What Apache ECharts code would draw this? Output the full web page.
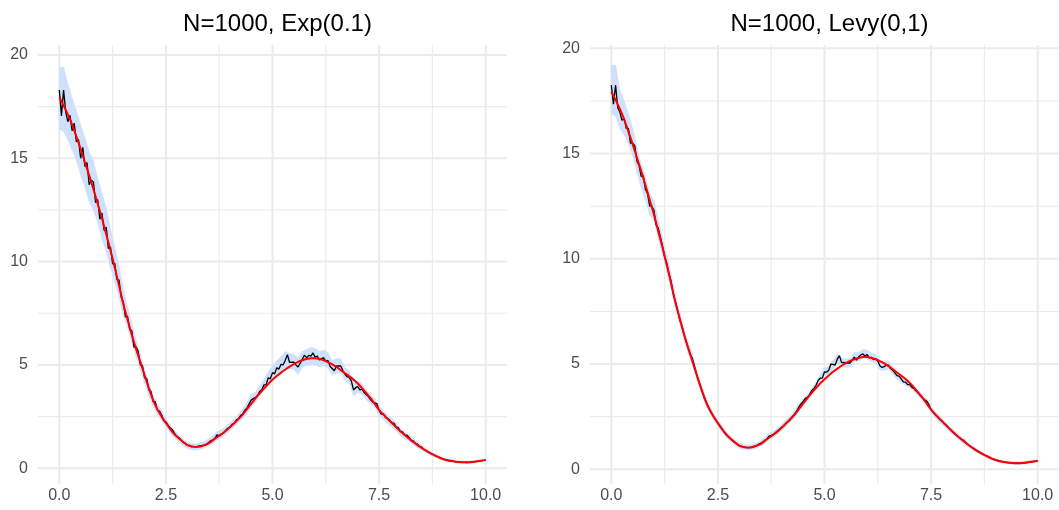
<!DOCTYPE html>
<html>
<head>
<meta charset="utf-8">
<script src="https://cdn.jsdelivr.net/npm/echarts@6/dist/echarts.min.js"></script>
<style>
html,body{margin:0;padding:0;background:#fff;}
#chart{width:1059px;height:510px;}
</style>
</head>
<body>
<div id="chart"></div>
<script>
// ---------- data ----------
const panelTitles = ['N=1000, Exp(0.1)', 'N=1000, Levy(0,1)'];
const xTickValues = [0, 2.5, 5, 7.5, 10];
const yTickValues = [0, 5, 10, 15, 20];
const xMinorGrid = [1.25, 3.75, 6.25, 8.75];
const yMinorGrid = [2.5, 7.5, 12.5, 17.5];
const coarseStep = 0.1;   // grid of the true curve and the bands
const fineStep = 0.05;    // grid of the estimates

// true function (red), same in both panels
const truth = [17.95,17.55,17.12,16.63,16.05,15.45,14.80,14.17,13.50,12.80,
12.10,11.32,10.55,9.72,8.85,7.95,7.20,6.45,5.78,5.15,
4.50,3.88,3.30,2.85,2.50,2.19,1.90,1.64,1.45,1.28,
1.12,1.06,1.03,1.05,1.12,1.20,1.35,1.50,1.64,1.80,
1.98,2.18,2.38,2.60,2.86,3.12,3.38,3.63,3.86,4.08,
4.28,4.46,4.63,4.78,4.92,5.04,5.15,5.23,5.29,5.33,
5.33,5.29,5.23,5.14,5.03,4.90,4.75,4.60,4.45,4.29,
4.10,3.88,3.64,3.39,3.11,2.83,2.60,2.39,2.19,1.99,
1.79,1.61,1.44,1.27,1.12,0.98,0.85,0.73,0.63,0.53,
0.45,0.39,0.35,0.32,0.30,0.29,0.29,0.31,0.34,0.37,
0.40];

// estimate, left panel (black)
const estExp = [18.30,17.05,18.30,17.24,16.77,17.08,16.33,16.70,15.80,15.90,
15.00,15.53,14.60,14.79,13.72,13.94,13.85,12.85,13.00,12.05,
12.35,11.51,11.67,10.64,10.70,9.89,9.92,9.14,9.10,8.30,
8.05,7.32,7.35,6.72,6.65,5.86,5.88,5.66,5.00,4.97,
4.38,4.34,3.80,3.71,3.22,3.22,2.80,2.77,2.58,2.30,
2.25,2.09,1.96,1.87,1.70,1.56,1.49,1.38,1.25,1.22,
1.12,1.11,1.04,1.06,1.03,1.06,1.09,1.10,1.12,1.14,
1.25,1.33,1.37,1.45,1.62,1.57,1.66,1.70,1.83,1.94,
2.00,2.12,2.16,2.33,2.40,2.55,2.63,2.81,2.91,3.11,
3.30,3.37,3.43,3.52,3.73,3.80,4.04,4.05,4.38,4.33,
4.63,4.57,4.86,4.80,5.03,5.00,5.23,5.50,5.12,5.13,
5.14,5.00,4.90,5.09,5.28,5.48,5.34,5.46,5.43,5.58,
5.38,5.43,5.24,5.31,5.35,5.16,5.22,4.94,4.83,4.72,
4.95,4.95,4.95,4.73,4.55,4.43,4.40,4.22,3.79,3.90,
3.95,3.79,3.83,3.66,3.56,3.47,3.31,3.20,3.16,3.12,
2.80,2.62,2.64,2.45,2.42,2.33,2.20,2.18,1.99,1.97,
1.77,1.76,1.60,1.60,1.50,1.36,1.33,1.21,1.17,1.06,
1.02,0.91,0.86,0.79,0.73,0.69,0.63,0.58,0.54,0.49,
0.45,0.42,0.39,0.36,0.35,0.33,0.31,0.31,0.30,0.29,
0.29,0.28,0.29,0.30,0.31,0.32,0.33,0.35,0.37,0.38,
0.40];

// estimate, right panel (black)
const estLevy = [18.25,17.35,18.25,17.19,16.97,16.58,16.68,16.20,16.20,15.50,
15.50,15.38,14.65,14.44,13.92,13.94,13.30,13.10,12.50,12.50,
12.30,11.61,11.47,11.04,10.60,10.09,9.80,9.32,8.95,8.35,
8.00,7.60,7.15,6.85,6.45,6.08,5.78,5.48,5.27,4.90,
4.52,4.19,3.90,3.59,3.33,3.07,2.87,2.67,2.50,2.36,
2.19,2.04,1.92,1.77,1.64,1.54,1.43,1.34,1.26,1.20,
1.12,1.09,1.06,1.04,1.03,1.03,1.05,1.08,1.12,1.18,
1.23,1.29,1.38,1.44,1.58,1.61,1.66,1.74,1.83,1.92,
2.00,2.08,2.20,2.28,2.40,2.51,2.63,2.78,2.96,3.11,
3.22,3.37,3.42,3.55,3.73,3.83,3.98,4.22,4.33,4.33,
4.63,4.62,4.71,5.00,4.98,4.95,5.23,5.40,5.07,5.08,
5.04,5.05,5.05,5.19,5.33,5.18,5.34,5.43,5.48,5.38,
5.45,5.29,5.32,5.21,5.25,5.14,4.92,4.84,4.88,4.94,
4.95,4.78,4.70,4.58,4.45,4.43,4.30,4.15,4.14,4.02,
4.02,3.89,3.83,3.71,3.62,3.49,3.39,3.30,3.23,3.07,
2.83,2.71,2.58,2.50,2.39,2.31,2.19,2.12,1.99,1.89,
1.79,1.70,1.62,1.52,1.44,1.39,1.30,1.19,1.12,1.05,
0.98,0.91,0.85,0.79,0.73,0.68,0.63,0.58,0.53,0.49,
0.45,0.42,0.39,0.37,0.35,0.33,0.32,0.31,0.30,0.29,
0.29,0.29,0.29,0.30,0.31,0.32,0.34,0.35,0.37,0.38,
0.40];

// confidence bands (light blue)
const bandExpLower = [16.4,16.3,15.9,15.4,14.9,14.2,13.6,12.9,12.5,11.9,
11.1,10.5,9.7,9.0,8.3,7.4,6.8,6.1,5.4,4.75,
4.1,3.5,3.0,2.6,2.3,2.0,1.72,1.48,1.3,1.1,
0.97,0.9,0.88,0.92,0.98,1.08,1.2,1.38,1.48,1.64,
1.82,1.98,2.2,2.4,2.62,2.95,3.2,3.5,3.78,4.05,
4.3,4.5,4.65,4.85,4.8,4.78,4.55,4.9,4.98,5.05,
5.0,4.9,4.98,4.85,4.5,4.6,4.62,4.25,4.1,3.5,
3.68,3.58,3.32,3.1,2.95,2.55,2.36,2.14,2.0,1.8,
1.58,1.42,1.32,1.14,1.0,0.88,0.76,0.63,0.54,0.46,
0.38,0.32,0.28,0.25,0.23,0.23,0.23,0.25,0.27,0.31,
0.34];
const bandExpUpper = [19.4,19.4,18.6,17.9,17.3,16.6,16.0,15.3,14.9,14.0,
13.3,12.6,11.6,10.7,9.8,8.7,7.8,7.0,6.25,5.5,
4.8,4.15,3.55,3.1,2.8,2.42,2.1,1.82,1.62,1.42,
1.28,1.2,1.18,1.24,1.3,1.42,1.55,1.78,1.86,2.02,
2.2,2.38,2.62,2.88,3.18,3.6,3.68,3.98,4.3,4.68,
4.95,5.2,5.4,5.65,5.55,5.5,5.35,5.65,5.75,5.85,
5.8,5.65,5.72,5.6,5.2,5.3,5.3,4.85,4.7,4.1,
4.22,4.08,3.8,3.52,3.38,3.02,2.8,2.56,2.42,2.18,
1.94,1.76,1.64,1.46,1.28,1.12,0.96,0.83,0.72,0.62,
0.52,0.46,0.42,0.38,0.36,0.35,0.35,0.37,0.39,0.43,
0.46];
const bandLevyLower = [16.9,16.8,16.2,15.9,15.5,14.9,14.1,13.4,12.8,12.1,
11.8,11.0,10.2,9.4,8.6,7.7,6.9,6.18,5.52,4.98,
4.3,3.7,3.14,2.7,2.34,2.04,1.77,1.5,1.3,1.14,
1.0,0.94,0.91,0.93,1.0,1.1,1.25,1.44,1.52,1.69,
1.86,2.05,2.24,2.46,2.78,3.1,3.3,3.6,3.84,4.17,
4.45,4.53,4.78,5.02,4.88,4.84,4.85,5.13,5.13,5.27,
5.24,5.11,5.05,4.72,4.69,4.76,4.52,4.28,4.13,3.98,
3.87,3.69,3.49,3.27,3.11,2.68,2.44,2.24,2.05,1.86,
1.66,1.5,1.32,1.18,1.02,0.88,0.76,0.65,0.55,0.46,
0.39,0.33,0.29,0.26,0.24,0.23,0.23,0.25,0.28,0.31,
0.34];
const bandLevyUpper = [19.2,19.2,18.0,17.5,16.9,16.2,15.3,14.5,13.9,13.1,
12.8,11.9,11.0,10.2,9.3,8.3,7.45,6.72,6.02,5.52,
4.74,4.1,3.52,3.04,2.66,2.35,2.07,1.78,1.56,1.38,
1.24,1.18,1.15,1.17,1.24,1.36,1.51,1.72,1.8,1.97,
2.14,2.35,2.56,2.8,3.14,3.34,3.55,3.86,4.12,4.5,
4.8,4.9,5.18,5.45,5.28,5.24,5.25,5.55,5.55,5.7,
5.66,5.52,5.45,5.12,5.07,5.14,4.88,4.62,4.47,4.3,
4.17,3.97,3.75,3.51,3.35,2.98,2.72,2.54,2.33,2.12,
1.92,1.74,1.56,1.42,1.22,1.08,0.94,0.81,0.71,0.6,
0.51,0.45,0.41,0.38,0.36,0.35,0.35,0.37,0.4,0.43,
0.46];

// ---------- build chart ----------
const FONT = '"Liberation Sans", Arial, Helvetica, sans-serif';
const gridCol = '#ebebeb';
const bandCol = '#cde0fc';
const xAt = (i, step) => Math.round(i * step * 1000) / 1000;
const toPairs = (ys, step) => ys.map((y, i) => [xAt(i, step), y]);
// one band segment per pair of neighbouring samples: [x0, lo0, hi0, x1, lo1, hi1]
const bandSegments = (lo, hi, step) => lo.slice(0, -1).map((l, i) =>
  [xAt(i, step), l, hi[i], xAt(i + 1, step), lo[i + 1], hi[i + 1]]);
// grid lines: [value, kind]  kind 0 = major x, 1 = minor x, 2 = major y, 3 = minor y
const gridItems = [].concat(
  xTickValues.map(v => [v, 0]), xMinorGrid.map(v => [v, 1]),
  yTickValues.map(v => [v, 2]), yMinorGrid.map(v => [v, 3]));

const panels = [
  { title: panelTitles[0], est: estExp, lo: bandExpLower, hi: bandExpUpper,
    grid: { left: 38, width: 469, top: 45, height: 439 }, yMin: -0.76, yMax: 20.48 },
  { title: panelTitles[1], est: estLevy, lo: bandLevyLower, hi: bandLevyUpper,
    grid: { left: 590, width: 469, top: 45, height: 439 }, yMin: -0.70, yMax: 20.16 }
];

const option = {
  animation: false,
  backgroundColor: '#ffffff',
  title: panels.map(p => ({
    text: p.title,
    left: p.grid.left + p.grid.width / 2,
    top: 7,
    textAlign: 'center',
    textStyle: { fontFamily: FONT, fontSize: 24, fontWeight: 'normal', color: '#000000' }
  })),
  grid: panels.map(p => Object.assign({ containLabel: false }, p.grid)),
  xAxis: panels.map((p, k) => ({
    type: 'value', gridIndex: k, min: -0.5, max: 10.5,
    axisLine: { show: false }, axisTick: { show: false }, splitLine: { show: false },
    axisLabel: {
      customValues: xTickValues, margin: 4,
      formatter: v => v.toFixed(1),
      fontFamily: FONT, fontSize: 16, color: '#4d4d4d'
    }
  })),
  yAxis: panels.map((p, k) => ({
    type: 'value', gridIndex: k, min: p.yMin, max: p.yMax,
    axisLine: { show: false }, axisTick: { show: false }, splitLine: { show: false },
    axisLabel: {
      customValues: yTickValues, margin: 10,
      formatter: v => String(v),
      fontFamily: FONT, fontSize: 16, color: '#4d4d4d'
    }
  })),
  series: []
};

panels.forEach((p, k) => {
  // background grid lines (major + minor), positioned by the axes
  option.series.push({
    type: 'custom', xAxisIndex: k, yAxisIndex: k, z: 0, silent: true,
    data: gridItems, encode: { x: -1, y: -1 },
    renderItem: (params, api) => {
      const cs = params.coordSys;
      const v = api.value(0), kind = api.value(1);
      const w = (kind === 0 || kind === 2) ? 2 : 1.1;
      let shape;
      if (kind < 2) {
        const px = api.coord([v, 0])[0];
        shape = { x1: px, y1: cs.y, x2: px, y2: cs.y + cs.height };
      } else {
        const py = api.coord([0, v])[1];
        shape = { x1: cs.x, y1: py, x2: cs.x + cs.width, y2: py };
      }
      return { type: 'line', shape: shape, style: { stroke: gridCol, lineWidth: w } };
    }
  });
  // confidence band
  option.series.push({
    type: 'custom', xAxisIndex: k, yAxisIndex: k, z: 2, silent: true,
    data: bandSegments(p.lo, p.hi, coarseStep), encode: { x: [0, 3], y: [1, 2, 4, 5] },
    renderItem: (params, api) => {
      const a = api.coord([api.value(0), api.value(1)]);
      const b = api.coord([api.value(3), api.value(4)]);
      const c = api.coord([api.value(3), api.value(5)]);
      const d = api.coord([api.value(0), api.value(2)]);
      return { type: 'polygon', shape: { points: [a, b, c, d] },
        style: { fill: bandCol, stroke: bandCol, lineWidth: 0.6 } };
    }
  });
  // estimate
  option.series.push({
    type: 'line', xAxisIndex: k, yAxisIndex: k, z: 3,
    data: toPairs(p.est, fineStep), symbol: 'none', silent: true,
    lineStyle: { color: '#000000', width: 1.3 }
  });
  // true function
  option.series.push({
    type: 'line', xAxisIndex: k, yAxisIndex: k, z: 4, smooth: 0.3,
    data: toPairs(truth, coarseStep), symbol: 'none', silent: true,
    lineStyle: { color: '#ff0000', width: 2 }
  });
});

const chart = echarts.init(document.getElementById('chart'), null, { renderer: 'canvas' });
chart.setOption(option);
</script>
</body>
</html>
